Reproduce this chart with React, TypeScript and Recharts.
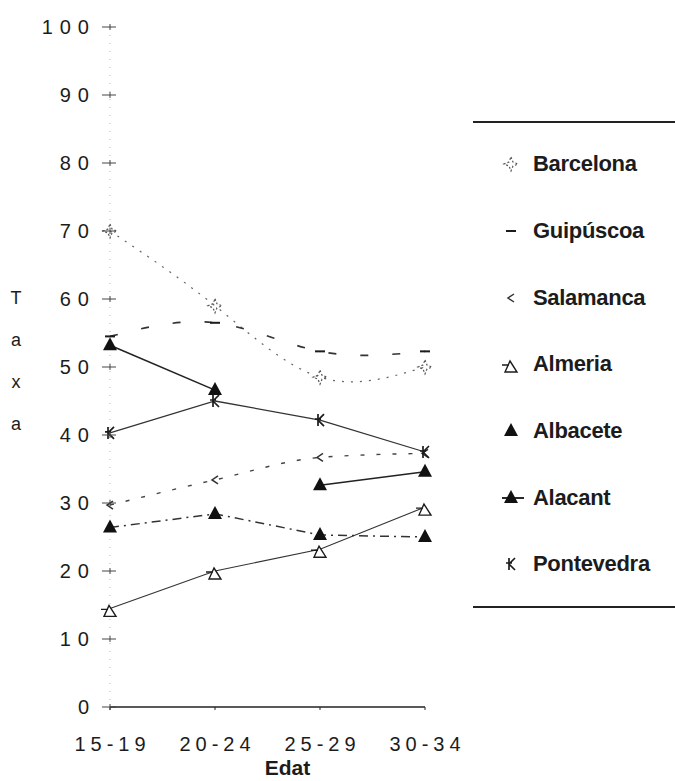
import React from "react";
import { LineChart, Line, XAxis, YAxis } from "recharts";

const CATEGORIES = ["15-19", "20-24", "25-29", "30-34"];
const Y_TICKS = [0, 10, 20, 30, 40, 50, 60, 70, 80, 90, 100];

const barcelona = [70, 59, 48.5, 50];
const guipuscoa = [54.5, 56.5, 52.3, 52.3];
const salamanca = [29.7, 33.4, 36.7, 37.3];
const almeria = [14.5, 20, 23.2, 29.4];
const albacete = [53.2, 46.6, 32.6, 34.6];
const alacant = [26.4, 28.4, 25.3, 25];
const pontevedra = [40.3, 45, 42.2, 37.5];

// albacete is drawn as two pieces: the scan shows no segment between 20-24 and 25-29
const data = CATEGORIES.map((c, i) => ({
  edat: c,
  barcelona: barcelona[i],
  guipuscoa: guipuscoa[i],
  salamanca: salamanca[i],
  almeria: almeria[i],
  albaceteA: i <= 1 ? albacete[i] : null,
  albaceteB: i >= 2 ? albacete[i] : null,
  alacant: alacant[i],
  pontevedra: pontevedra[i],
}));

const INK = "#1c1c1c";
const FONT = "'Liberation Sans', Arial, sans-serif";

// eslint-disable-next-line @typescript-eslint/no-explicit-any
type Any = any;

type MarkerKind = "star" | "dash" | "chevron" | "openTri" | "tri" | "triLine" | "k";

function markerPath(kind: MarkerKind, cx: number, cy: number) {
  switch (kind) {
    case "star":
      return <path d={`M${cx},${cy - 7} L${cx + 2},${cy - 2} L${cx + 7},${cy} L${cx + 2},${cy + 2} L${cx},${cy + 7} L${cx - 2},${cy + 2} L${cx - 7},${cy} L${cx - 2},${cy - 2} Z`}
        fill="none" stroke="#555" strokeWidth={1.2} strokeDasharray="2 2" />;
    case "dash":
      return <path d={`M${cx - 5},${cy} L${cx + 5},${cy}`} stroke={INK} strokeWidth={2} />;
    case "chevron":
      return <path d={`M${cx + 3},${cy - 4} L${cx - 3},${cy} L${cx + 3},${cy + 4}`} fill="none" stroke="#333" strokeWidth={1.5} />;
    case "openTri":
      return <path d={`M${cx - 1},${cy - 3} L${cx + 6},${cy + 8} L${cx - 6},${cy + 8} Z M${cx - 9},${cy + 1} L${cx - 2},${cy + 1}`}
        fill="#fff" stroke={INK} strokeWidth={1.4} />;
    case "tri":
      return <path d={`M${cx},${cy - 8} L${cx + 7},${cy + 5} L${cx - 7},${cy + 5} Z`} fill="#111" />;
    case "triLine":
      return (
        <g>
          <path d={`M${cx},${cy - 8} L${cx + 7},${cy + 5} L${cx - 7},${cy + 5} Z`} fill="#111" />
          <path d={`M${cx - 9},${cy} L${cx + 13},${cy}`} stroke="#111" strokeWidth={1.8} />
        </g>
      );
    case "k":
      return <path d={`M${cx - 2},${cy - 6} L${cx - 2},${cy + 6} M${cx - 2},${cy} L${cx + 4},${cy - 6} M${cx - 2},${cy} L${cx + 4},${cy + 6} M${cx - 5},${cy - 1} L${cx + 1},${cy - 1}`}
        fill="none" stroke={INK} strokeWidth={1.7} />;
  }
}

const dotOf = (kind: MarkerKind) => (props: Any) => {
  const { cx, cy, index } = props;
  if (cx == null || cy == null || props.value == null) return <g key={`d${index}`} />;
  return <g key={`d${index}`}>{markerPath(kind, cx, cy)}</g>;
};

const LEGEND: { name: string; kind: MarkerKind }[] = [
  { name: "Barcelona", kind: "star" },
  { name: "Guipúscoa", kind: "dash" },
  { name: "Salamanca", kind: "chevron" },
  { name: "Almeria", kind: "openTri" },
  { name: "Albacete", kind: "tri" },
  { name: "Alacant", kind: "triLine" },
  { name: "Pontevedra", kind: "k" },
];

function YTick({ x, y, payload }: Any) {
  return (
    <g>
      <path d={`M${x - 8},${y} L${x + 6},${y} M${x},${y - 3} L${x},${y + 3}`} stroke="#444" strokeWidth={1} />
      <text x={x - 14} y={y} dy="0.36em" textAnchor="end" fill={INK}
        style={{ fontFamily: FONT, fontSize: 20, letterSpacing: 7 }}>
        {payload.value}
      </text>
    </g>
  );
}

function XTick({ x, y, payload }: Any) {
  return (
    <text x={x + 2.5} y={y + 39} textAnchor="middle" fill={INK}
      style={{ fontFamily: FONT, fontSize: 20, letterSpacing: 5 }}>
      {payload.value}
    </text>
  );
}

function TaxaLabel({ viewBox }: Any) {
  const mid = viewBox.y + viewBox.height / 2 - 6;
  return (
    <g>
      {["T", "a", "x", "a"].map((ch, i) => (
        <text key={i} x={viewBox.x + 16} y={mid + (i - 1.5) * 42} dominantBaseline="central" textAnchor="middle"
          fill={INK} style={{ fontFamily: FONT, fontSize: 18 }}>
          {ch}
        </text>
      ))}
    </g>
  );
}

function EdatLabel({ viewBox }: Any) {
  return (
    <text x={viewBox.x + viewBox.width / 2 + 20} y={viewBox.y + viewBox.height - 6} textAnchor="middle"
      fill={INK} style={{ fontFamily: FONT, fontSize: 21, fontWeight: 700 }}>
      Edat
    </text>
  );
}

function LegendBox() {
  return (
    <div style={{
      position: "absolute", left: 473, top: 121, width: 202, height: 487,
      borderTop: "2px solid #222", borderBottom: "2px solid #222", boxSizing: "border-box",
      paddingTop: 8,
    }}>
      {LEGEND.map(({ name, kind }) => (
        <div key={name} style={{ height: 66.7, display: "flex", alignItems: "center" }}>
          <svg width={60} height={24} style={{ display: "block" }}>
            {markerPath(kind, 38, 12)}
          </svg>
          <span style={{ fontFamily: FONT, fontSize: 22, fontWeight: 700, color: INK, letterSpacing: -0.3 }}>{name}</span>
        </div>
      ))}
    </div>
  );
}

export default function App() {
  return (
    <div style={{ position: "absolute", left: 0, top: 0, width: 675, height: 781, background: "#fff" }}>
      <LineChart width={675} height={781} data={data} margin={{ top: 27, right: 250, left: 0, bottom: 0 }}>
        <XAxis dataKey="edat" height={74} padding={{ left: 0, right: 0 }} tick={<XTick />}
          axisLine={{ stroke: "#222", strokeWidth: 1.5 }} tickLine={{ stroke: "#222" }} tickSize={3}
          label={<EdatLabel />} />
        <YAxis type="number" domain={[0, 100]} ticks={Y_TICKS} width={110} tick={<YTick />}
          tickSize={0} tickMargin={0} tickLine={false}
          axisLine={{ stroke: "#bbb", strokeDasharray: "1 7" }} label={<TaxaLabel />} />
        <Line type="natural" dataKey="barcelona" stroke="#666" strokeWidth={1.2} strokeDasharray="2 7"
          dot={dotOf("star")} isAnimationActive={false} />
        <Line type="natural" dataKey="guipuscoa" stroke="#333" strokeWidth={1.6} strokeDasharray="8 24"
          dot={dotOf("dash")} isAnimationActive={false} />
        <Line type="monotone" dataKey="salamanca" stroke="#444" strokeWidth={1.4} strokeDasharray="4 12"
          dot={dotOf("chevron")} isAnimationActive={false} />
        <Line type="linear" dataKey="almeria" stroke="#333" strokeWidth={1.1}
          dot={dotOf("openTri")} isAnimationActive={false} />
        <Line type="linear" dataKey="albaceteA" stroke="#222" strokeWidth={1.6}
          dot={dotOf("tri")} isAnimationActive={false} />
        <Line type="linear" dataKey="albaceteB" stroke="#222" strokeWidth={1.6}
          dot={dotOf("tri")} isAnimationActive={false} />
        <Line type="linear" dataKey="alacant" stroke="#333" strokeWidth={1.5} strokeDasharray="9 5 2 5"
          dot={dotOf("tri")} isAnimationActive={false} />
        <Line type="linear" dataKey="pontevedra" stroke="#333" strokeWidth={1.3}
          dot={dotOf("k")} isAnimationActive={false} />
      </LineChart>
      <LegendBox />
    </div>
  );
}
